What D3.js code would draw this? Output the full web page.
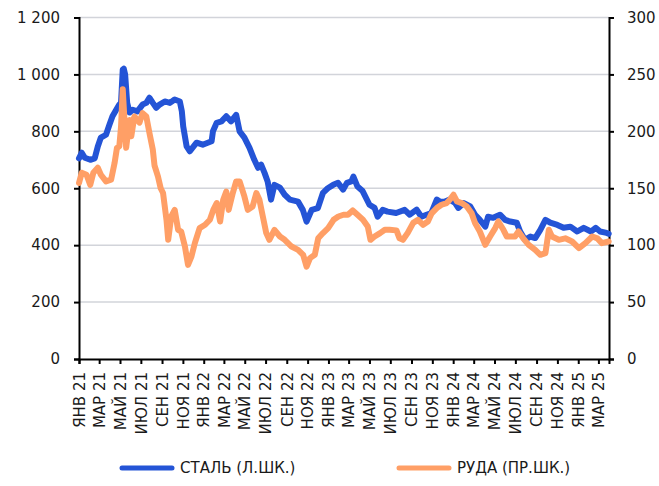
<!DOCTYPE html>
<html>
<head>
<meta charset="utf-8">
<script src="https://cdn.jsdelivr.net/npm/d3@7"></script>
<style>
  body { margin: 0; background: #fff; }
  text { font-family: "DejaVu Sans", sans-serif; font-size: 15px; fill: #1a1a1a; }
</style>
</head>
<body>
<div id="chart"></div>
<script>
// Сталь (левая шкала)
let steelDates = ["2021-01-01","2021-01-09","2021-01-18","2021-02-03","2021-02-16","2021-02-25","2021-03-06","2021-03-21","2021-03-31","2021-04-09",
  "2021-04-20","2021-04-29","2021-05-04","2021-05-09","2021-05-12","2021-05-16","2021-05-22","2021-05-29","2021-06-07","2021-06-21",
  "2021-07-06","2021-07-17","2021-07-26","2021-08-05","2021-08-15","2021-08-25","2021-09-09","2021-09-24","2021-10-08","2021-10-23",
  "2021-10-29","2021-11-02","2021-11-12","2021-11-21","2021-12-11","2021-12-29","2022-01-24","2022-01-28","2022-02-08","2022-02-22",
  "2022-03-08","2022-03-22","2022-04-06","2022-04-16","2022-04-30","2022-05-15","2022-05-29","2022-06-09","2022-06-18","2022-06-28",
  "2022-07-07","2022-07-17","2022-07-27","2022-08-12","2022-08-26","2022-09-10","2022-10-04","2022-10-18","2022-10-29","2022-11-13",
  "2022-12-01","2022-12-16","2022-12-30","2023-01-15","2023-01-29","2023-02-13","2023-02-24","2023-03-09","2023-03-15","2023-03-27",
  "2023-04-11","2023-05-01","2023-05-16","2023-05-25","2023-06-09","2023-06-23","2023-07-18","2023-08-12","2023-08-27","2023-09-16",
  "2023-09-30","2023-10-15","2023-10-29","2023-11-14","2023-11-23","2023-12-08","2023-12-22","2024-01-07","2024-01-16","2024-02-01",
  "2024-02-20","2024-03-05","2024-03-19","2024-04-04","2024-04-12","2024-04-27","2024-05-17","2024-06-01","2024-06-16","2024-07-05",
  "2024-07-15","2024-07-29","2024-08-14","2024-08-28","2024-09-12","2024-09-27","2024-10-11","2024-11-01","2024-11-19","2024-12-09",
  "2024-12-29","2025-01-17","2025-02-07","2025-02-21","2025-03-06","2025-03-25","2025-03-31"]
let steelValues = [705,725,707,700,705,747,778,788,823,853,
  876,894,900,1017,1020,1000,900,866,876,870,
  894,900,918,900,883,894,905,900,912,905,
  870,817,747,730,760,753,765,800,830,835,
  853,835,858,800,778,742,700,672,683,654,
  624,560,612,602,577,560,553,524,483,524,
  530,584,600,612,619,595,619,624,641,606,
  590,542,531,500,524,518,513,524,507,525,
  500,507,513,560,553,553,560,548,531,548,
  536,507,489,465,500,496,507,489,483,479,
  448,419,430,425,454,489,479,471,461,465,
  448,461,448,461,448,443,440]

// Руда (правая шкала)
let oreDates = ["2021-01-01","2021-01-09","2021-01-23","2021-02-03","2021-02-12","2021-02-25","2021-03-06","2021-03-21","2021-04-05","2021-04-15",
  "2021-04-22","2021-04-29","2021-05-04","2021-05-09","2021-05-14","2021-05-19","2021-05-29","2021-06-03","2021-06-12","2021-06-27",
  "2021-07-06","2021-07-17","2021-07-26","2021-08-05","2021-08-10","2021-08-20","2021-08-28","2021-09-04","2021-09-14","2021-09-19",
  "2021-09-28","2021-10-08","2021-10-18","2021-10-27","2021-11-07","2021-11-16","2021-11-26","2021-12-06","2021-12-20","2022-01-05",
  "2022-01-19","2022-01-29","2022-02-08","2022-02-18","2022-02-27","2022-03-08","2022-03-15","2022-03-27","2022-04-06","2022-04-16",
  "2022-04-30","2022-05-10","2022-05-24","2022-06-04","2022-06-13","2022-06-23","2022-07-03","2022-07-12","2022-07-27","2022-08-12",
  "2022-08-26","2022-09-15","2022-10-04","2022-10-19","2022-10-29","2022-11-08","2022-11-22","2022-12-02","2022-12-16","2022-12-31",
  "2023-01-16","2023-01-30","2023-02-14","2023-02-27","2023-03-13","2023-03-27","2023-04-12","2023-04-26","2023-05-04","2023-05-16",
  "2023-06-01","2023-06-15","2023-06-29","2023-07-19","2023-07-28","2023-08-07","2023-08-21","2023-09-06","2023-09-20","2023-10-05",
  "2023-10-19","2023-10-30","2023-11-14","2023-11-28","2023-12-13","2023-12-22","2024-01-02","2024-01-12","2024-01-26","2024-02-10",
  "2024-02-24","2024-03-05","2024-03-19","2024-04-04","2024-04-18","2024-05-03","2024-05-12","2024-05-27","2024-06-06","2024-06-30",
  "2024-07-10","2024-07-24","2024-08-09","2024-08-28","2024-09-12","2024-09-27","2024-10-07","2024-10-16","2024-11-05","2024-11-24",
  "2024-12-14","2025-01-03","2025-01-22","2025-02-11","2025-02-26","2025-03-11","2025-03-31"]
let oreValues = [154.6,163.6,161.9,153,163.6,168,161.9,156,157.5,172,
  185.4,186.8,204,237,210,185.6,210,195.6,213,207.6,
  216,213,198.8,183.9,170,160.4,150,145.8,122.3,104.7,
  125.2,131,113.5,112,98.8,82.7,90,101.8,115,117.9,
  122.3,131,137,120.8,139.9,147,131,145.8,156,156,
  142.8,131,134,145.8,139.9,125.2,110.6,104.7,113.5,107.6,
  104.7,98.8,95.9,91.5,81.2,88.6,91.5,106,110.6,115,
  122.3,125.2,126.7,126.7,130.5,126.7,122.3,116.4,104.7,107.6,
  110.6,113.5,113.5,113,106,104.7,110.8,119.6,122.3,117.9,
  120.8,128,132.6,135.5,137,139.9,144.3,138.4,137,134,
  128,119.4,112,100.3,107.6,115,120.8,113.5,107.6,107.6,
  112,106,100.3,95.9,91.5,93,113.5,107.6,104.7,106,
  103.2,97.4,101.8,107.6,106,101.8,103.2]

let leftTicks = [0, 200, 400, 600, 800, 1000, 1200]
let rightTicks = [0, 50, 100, 150, 200, 250, 300]
let monthNames = ["ЯНВ", "ФЕВ", "МАР", "АПР", "МАЙ", "ИЮН", "ИЮЛ", "АВГ", "СЕН", "ОКТ", "НОЯ", "ДЕК"]
let seriesNames = ["СТАЛЬ (Л.ШК.)", "РУДА (ПР.ШК.)"]
let seriesColors = ["#2454d6", "#ff9f66"]

let width = 659, height = 486
let margin = {top: 17.5, right: 50, bottom: 127, left: 79}

let svg = d3.select("#chart")
  .append("svg")
    .attr("width", width)
    .attr("height", height)

let parse = d3.timeParse("%Y-%m-%d")

let x = d3.scaleTime()
  .domain([parse("2021-01-01"), parse("2025-04-01")])
  .range([margin.left, width - margin.right])

let yL = d3.scaleLinear()
  .domain([0, 1200])
  .range([height - margin.bottom, margin.top])

let yR = d3.scaleLinear()
  .domain([0, 300])
  .range([height - margin.bottom, margin.top])

// сетка
svg.append("g")
  .selectAll("line")
  .data(leftTicks.filter(d => d > 0))
  .enter().append("line")
    .attr("x1", margin.left)
    .attr("x2", width - margin.right)
    .attr("y1", d => yL(d))
    .attr("y2", d => yL(d))
    .style("stroke", "#d2d4da")
    .style("stroke-width", 1.5)

// левая ось
svg.append("g")
  .attr("transform", "translate(" + margin.left + ",0)")
  .call(d3.axisLeft(yL).tickValues(leftTicks).tickSize(5).tickPadding(14)
    .tickFormat(d => d3.format(",")(d).replace(",", " ")))
  .call(g => g.selectAll("path, line").style("stroke", "#000").style("stroke-width", 2))
  .call(g => g.selectAll("text").style("font-size", "15px").style("font-family", "DejaVu Sans"))

// правая ось
svg.append("g")
  .attr("transform", "translate(" + (width - margin.right) + ",0)")
  .call(d3.axisRight(yR).tickValues(rightTicks).tickSize(5).tickPadding(13))
  .call(g => g.selectAll("path, line").style("stroke", "#000").style("stroke-width", 2))
  .call(g => g.selectAll("text").style("font-size", "15px").style("font-family", "DejaVu Sans"))

// нижняя ось
svg.append("g")
  .attr("transform", "translate(0," + (height - margin.bottom) + ")")
  .call(d3.axisBottom(x)
    .ticks(d3.timeMonth.every(2))
    .tickSize(5)
    .tickFormat(d => monthNames[d.getMonth()] + " " + d3.timeFormat("%y")(d)))
  .call(g => g.selectAll("path, line").style("stroke", "#000").style("stroke-width", 2))
  .selectAll("text")
    .attr("transform", "rotate(-90)")
    .attr("x", -13)
    .attr("y", 0)
    .attr("dy", "0.35em")
    .style("text-anchor", "end")
    .style("font-size", "15px")
    .style("font-family", "DejaVu Sans")

let steel = steelDates.map((d, i) => ({date: parse(d), value: steelValues[i]}))
let ore = oreDates.map((d, i) => ({date: parse(d), value: oreValues[i]}))

let lineL = d3.line().x(d => x(d.date)).y(d => yL(d.value))
let lineR = d3.line().x(d => x(d.date)).y(d => yR(d.value))

svg.append("path")
  .datum(steel)
  .attr("d", lineL)
  .style("fill", "none")
  .style("stroke", seriesColors[0])
  .style("stroke-width", 6)
  .style("stroke-linejoin", "round")
  .style("stroke-linecap", "round")

svg.append("path")
  .datum(ore)
  .attr("d", lineR)
  .style("fill", "none")
  .style("stroke", seriesColors[1])
  .style("stroke-width", 6)
  .style("stroke-linejoin", "round")
  .style("stroke-linecap", "round")

// легенда
let legend = svg.append("g")
  .selectAll("g")
  .data(seriesNames)
  .enter().append("g")
    .attr("transform", (d, i) => "translate(" + (122 + i * 277) + ",468)")

legend.append("line")
  .attr("x1", 0).attr("x2", 50)
  .style("stroke", (d, i) => seriesColors[i])
  .style("stroke-width", 5)
  .style("stroke-linecap", "round")

legend.append("text")
  .attr("x", 58)
  .attr("dy", "0.35em")
  .style("font-size", "15px")
  .text(d => d)
</script>
</body>
</html>
